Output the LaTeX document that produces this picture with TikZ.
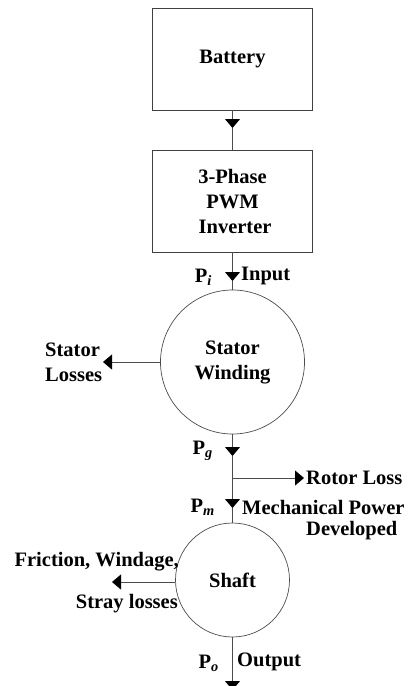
\documentclass[tikz,border=0pt]{standalone}
\usepackage{fontspec}
\setmainfont{Liberation Serif}
\usetikzlibrary{arrows.meta}
\tikzset{
  blk/.style={draw=black!75, line width=0.9pt, minimum width=160pt, minimum height=102pt, inner sep=0pt, align=center},
  circ/.style={draw=black!70, line width=0.7pt, circle, inner sep=0pt, align=center},
  conn/.style={draw=black!70, line width=0.9pt},
  tip/.style={conn, -{Triangle[length=9pt,width=15pt,fill=black,color=black]}},
  lbl/.style={inner sep=0pt, font=\bfseries\fontsize{20.5}{25}\selectfont, align=left},
}
\newcommand{\sub}[1]{\textsubscript{\itshape #1}}
\begin{document}
\begin{tikzpicture}[x=1pt,y=-1pt, every node/.append style={font=\bfseries\fontsize{20.5}{25}\selectfont}]
\useasboundingbox (0,0) rectangle (411,686);
\node[blk] (battery) at (232.5,59) {Battery};
\node[blk] (inverter) at (232.5,201) {3-Phase\\PWM\\\ Inverter};
\node[circ, minimum size=144pt] (stator) at (232.5,362) {Stator\\Winding};
\node[circ, minimum size=114pt] (shaft) at (232.5,580) {Shaft};

\coordinate (a1) at (232.5,128);
\coordinate (a2) at (232.5,281);
\coordinate (sl) at (103,362);
\coordinate (pg) at (232.5,456);
\coordinate (j) at (232.5,478);
\coordinate (rl) at (304,478);
\coordinate (pm) at (232.5,508);
\coordinate (fw) at (112,582);
\coordinate (out) at (232.5,690);

\draw[tip] (battery) -- (a1);
\draw[conn] (a1) -- (inverter);
\draw[tip] (inverter) -- (a2);
\draw[conn] (a2) -- (stator);
\draw[tip] (stator.west) -- (sl);
\draw[tip] (stator) -- (pg);
\draw[conn] (pg) -- (j);
\draw[tip] (j) -- (rl);
\draw[tip] (j) -- (pm);
\draw[conn] (pm) -- (shaft);
\draw[tip] (shaft.west |- fw) -- (fw);
\draw[tip] (shaft) -- (out);

\node[lbl, anchor=east] (pi) at (212,277) {P\sub{i}};
\node[lbl, anchor=west] (input) at (241,276) {Input};
\node[lbl, anchor=west] (slt) at (45,362) {Stator\\Losses};
\node[lbl, anchor=east] (pgt) at (213,451) {P\sub{g}};
\node[lbl, anchor=west] (rlt) at (306,478) {Rotor Loss};
\node[lbl, anchor=east] (pmt) at (215,507) {P\sub{m}};
\node[lbl, anchor=west] (mp) at (242,507) {Mechanical Power};
\node[lbl, anchor=west] (dev) at (306,531) {Developed};
\node[lbl, anchor=east] (fr) at (179,562) {Friction, Windage,};
\node[lbl, anchor=east] (st) at (178,604) {Stray losses};
\node[lbl, anchor=east] (po) at (219,663) {P\sub{o}};
\node[lbl, anchor=west] (outt) at (237,662) {Output};
\end{tikzpicture}
\end{document}
